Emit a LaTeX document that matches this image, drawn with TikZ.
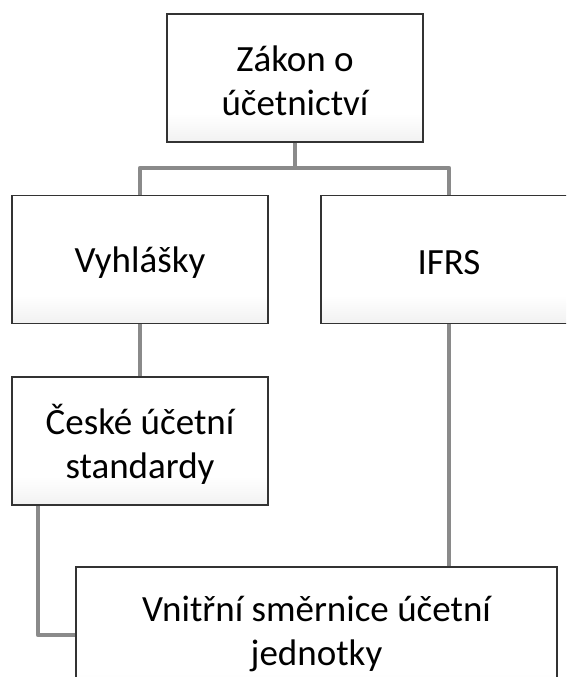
\documentclass[tikz,border=0pt]{standalone}
\usepackage{fontspec}
\setmainfont{Carlito}
\usetikzlibrary{calc}
\definecolor{boxgray}{HTML}{D2D2D2}
\definecolor{edgegray}{HTML}{333333}
\definecolor{conngray}{HTML}{8A8A8A}
\pgfdeclareverticalshading{boxshade}{100bp}{color(0bp)=(boxgray); color(36bp)=(white); color(100bp)=(white)}
\tikzset{
  orgbox/.style={draw=edgegray, line width=1.2pt, shading=boxshade, rectangle,
    minimum width=256pt, minimum height=128pt, inner sep=0pt},
  txtshift/.style={label={[align=center, font=\fontsize{37}{44}\selectfont, inner sep=0pt, yshift=-3pt]center:#1}},
  txtplain/.style={label={[align=center, font=\fontsize{37}{44}\selectfont, inner sep=0pt, yshift=1pt]center:#1}},
  conn/.style={draw=conngray, line width=4.5pt, line join=round}
}
\begin{document}
\begin{tikzpicture}[x=1pt,y=-1pt]
\useasboundingbox (0,0) rectangle (566,677);
\clip (0,0) rectangle (566,677);
\fill[white] (0,0) rectangle (566,677);
\coordinate (j) at (295,168);
\coordinate (cl) at (38,506);
% boxes
\node[orgbox, txtshift={Zákon o\\účetnictví}] (zakon) at (295,78) {};
\node[orgbox, txtshift={Vyhlášky}] (vyhl) at (140,259.5) {};
\node[orgbox, txtshift={IFRS}] (ifrs) at (449,259.5) {};
\node[orgbox, txtshift={České účetní\\standardy}] (cus) at (140,441) {};
\node[orgbox, minimum width=481pt, minimum height=136pt, txtplain={Vnitřní směrnice účetní\\jednotky}] (vnit) at (316.5,635) {};
% connectors
\draw[conn] (zakon.south) -- (j);
\draw[conn] (vyhl.north) |- (j) -| (ifrs.north);
\draw[conn] (vyhl.south) -- (cus.north);
\draw[conn] (ifrs.south) -- (ifrs.south |- vnit.north);
\draw[conn] (cl) |- (vnit.west);
\end{tikzpicture}
\end{document}
